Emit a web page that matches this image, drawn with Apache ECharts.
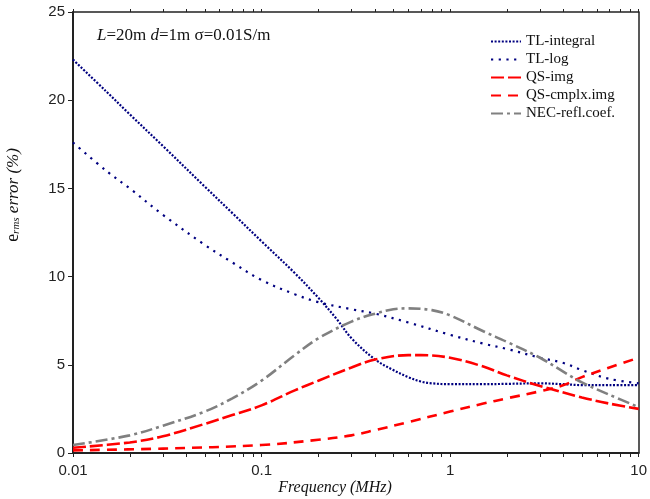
<!DOCTYPE html>
<html>
<head>
<meta charset="utf-8">
<title>erms error vs frequency</title>
<script src="https://cdn.jsdelivr.net/npm/echarts@6/dist/echarts.min.js"></script>
<style>
  html, body { margin: 0; padding: 0; background: #fff; }
  #main { width: 650px; height: 499px; }
</style>
</head>
<body>
<div id="main"></div>
<script>
// values (frequency in MHz, error in %)
var tlIntFreq = [0.01, 0.015, 0.02, 0.03, 0.05, 0.07, 0.1, 0.15, 0.2, 0.25, 0.3, 0.4, 0.5, 0.6, 0.7, 0.8, 1, 1.5, 2, 3, 4, 5, 7, 10];
var tlIntVal  = [22.3, 20.5, 19.2, 17.4, 15.1, 13.6, 12.0, 10.2, 8.8, 7.6, 6.5, 5.3, 4.7, 4.3, 4.05, 3.95, 3.9, 3.9, 3.92, 3.95, 3.9, 3.85, 3.85, 3.85];

var tlLogFreq = [0.01, 0.015, 0.02, 0.03, 0.05, 0.07, 0.1, 0.15, 0.2, 0.3, 0.4, 0.6, 1, 1.5, 2, 3, 4, 5, 7, 10];
var tlLogVal  = [17.6, 16.0, 15.0, 13.5, 11.8, 10.8, 9.8, 9.0, 8.55, 8.15, 7.9, 7.4, 6.7, 6.2, 5.9, 5.4, 5.1, 4.7, 4.2, 3.95];

var qsImgFreq = [0.01, 0.02, 0.03, 0.05, 0.07, 0.1, 0.15, 0.2, 0.3, 0.4, 0.6, 0.7, 1, 1.5, 2, 3, 5, 7, 10];
var qsImgVal  = [0.3, 0.6, 0.95, 1.65, 2.15, 2.7, 3.55, 4.1, 4.85, 5.3, 5.55, 5.55, 5.4, 4.9, 4.4, 3.8, 3.15, 2.8, 2.5];

var qsCplxFreq = [0.01, 0.03, 0.1, 0.2, 0.3, 0.4, 0.6, 1, 1.5, 2, 3, 4, 5, 7, 10];
var qsCplxVal  = [0.15, 0.25, 0.45, 0.75, 1.0, 1.3, 1.75, 2.35, 2.8, 3.1, 3.5, 3.85, 4.3, 4.85, 5.4];

var necFreq = [0.01, 0.02, 0.03, 0.05, 0.07, 0.1, 0.15, 0.2, 0.3, 0.4, 0.5, 0.6, 0.8, 1, 1.5, 2, 3, 4, 5, 7, 10];
var necVal  = [0.45, 1.0, 1.55, 2.35, 3.1, 4.1, 5.55, 6.5, 7.45, 7.9, 8.15, 8.2, 8.1, 7.8, 6.9, 6.3, 5.4, 4.6, 4.0, 3.3, 2.6];

var seriesNames = ['TL-integral', 'TL-log', 'QS-img', 'QS-cmplx.img', 'NEC-refl.coef.'];

// tick values
var xMajor = [0.01, 0.1, 1, 10];
var xMinor = [0.02, 0.03, 0.04, 0.05, 0.06, 0.07, 0.08, 0.09,
              0.2, 0.3, 0.4, 0.5, 0.6, 0.7, 0.8, 0.9,
              2, 3, 4, 5, 6, 7, 8, 9];
var xLabels = ['0.01', '0.1', '1', '10'];

function pairs(f, v) {
  return f.map(function (x, i) { return [x, v[i]]; });
}

var myChart = echarts.init(document.getElementById('main'));

var axisColor = '#222';
var serif = '"Liberation Serif", "Times New Roman", serif';
var sans = '"Liberation Sans", Arial, sans-serif';

var option = {
  backgroundColor: '#fff',
  animation: false,
  grid: { left: 73, right: 2, top: 12, bottom: 46, containLabel: false },
  legend: {
    orient: 'vertical', left: 485, top: 29,
    itemWidth: 30, itemHeight: 12, itemGap: 3,
    itemStyle: { opacity: 0 },
    data: seriesNames,
    textStyle: { fontFamily: serif, fontSize: 15, color: '#111' }
  },
  xAxis: [
    {
      type: 'log', logBase: 10, min: 0.01, max: 10, position: 'bottom',
      axisLine: { show: true, onZero: false, lineStyle: { color: axisColor, width: 2 } },
      axisTick: { show: true, inside: false, length: 4, customValues: xMajor.concat(xMinor), lineStyle: { color: axisColor, width: 1 } },
      axisLabel: {
        show: true, margin: 10, fontSize: 15, color: axisColor, fontFamily: sans,
        customValues: xMajor,
        formatter: function (v) {
          var i = xMajor.findIndex(function (m) { return Math.abs(Math.log10(m) - Math.log10(v)) < 1e-6; });
          return i >= 0 ? xLabels[i] : '';
        }
      },
      splitLine: { show: false }
    },
    {
      type: 'log', logBase: 10, min: 0.01, max: 10, position: 'top',
      axisLine: { show: true, onZero: false, lineStyle: { color: axisColor, width: 1.5 } },
      axisTick: { show: true, inside: false, length: 3, customValues: xMajor.concat(xMinor), lineStyle: { color: axisColor, width: 1 } },
      axisLabel: { show: false },
      splitLine: { show: false }
    }
  ],
  yAxis: [
    {
      type: 'value', min: 0, max: 25, interval: 5, position: 'left',
      axisLine: { show: true, lineStyle: { color: axisColor, width: 2 } },
      axisTick: { show: true, inside: false, length: 5, lineStyle: { color: axisColor } },
      axisLabel: { fontSize: 15, color: axisColor, fontFamily: sans, margin: 8 },
      splitLine: { show: false }
    },
    {
      type: 'value', min: 0, max: 25, interval: 5, position: 'right',
      axisLine: { show: true, lineStyle: { color: axisColor, width: 1.5 } },
      axisTick: { show: false },
      axisLabel: { show: false },
      splitLine: { show: false }
    }
  ],
  graphic: [
    {
      type: 'text', left: 97, top: 27,
      style: {
        text: '{i|L}=20m {i|d}=1m σ=0.01S/m',
        font: '17px ' + serif, fill: '#111',
        rich: { i: { fontStyle: 'italic', fontSize: 17, fontFamily: serif } }
      }
    },
    {
      type: 'text', x: 12, y: 195, rotation: Math.PI / 2,
      style: {
        text: '{e|e}{s|rms}{i| error (%)}',
        align: 'center', verticalAlign: 'middle', fill: '#111',
        rich: {
          e: { fontSize: 18, fontFamily: serif, verticalAlign: 'bottom', lineHeight: 20 },
          s: { fontSize: 11, fontFamily: serif, fontStyle: 'italic', verticalAlign: 'bottom', lineHeight: 14 },
          i: { fontSize: 17, fontFamily: serif, fontStyle: 'italic', verticalAlign: 'bottom', lineHeight: 20 }
        }
      }
    },
    {
      type: 'text', x: 335, y: 488,
      style: {
        text: 'Frequency (MHz)', align: 'center', verticalAlign: 'middle',
        font: 'italic 16px ' + serif, fill: '#111'
      }
    }
  ],
  series: [
    {
      name: 'TL-integral', type: 'line', smooth: 0.35, symbol: 'none',
      data: pairs(tlIntFreq, tlIntVal),
      itemStyle: { color: '#000080' },
      lineStyle: { color: '#000080', width: 2.2, type: [2, 1.6] }
    },
    {
      name: 'TL-log', type: 'line', smooth: 0.35, symbol: 'none',
      data: pairs(tlLogFreq, tlLogVal),
      itemStyle: { color: '#000080' },
      lineStyle: { color: '#000080', width: 2.2, type: [2.2, 5.5] }
    },
    {
      name: 'QS-img', type: 'line', smooth: 0.35, symbol: 'none',
      data: pairs(qsImgFreq, qsImgVal),
      itemStyle: { color: '#ff0000' },
      lineStyle: { color: '#ff0000', width: 2.6, type: [13, 4] }
    },
    {
      name: 'QS-cmplx.img', type: 'line', smooth: 0.35, symbol: 'none',
      data: pairs(qsCplxFreq, qsCplxVal),
      itemStyle: { color: '#ff0000' },
      lineStyle: { color: '#ff0000', width: 2.6, type: [10, 7] }
    },
    {
      name: 'NEC-refl.coef.', type: 'line', smooth: 0.35, symbol: 'none',
      data: pairs(necFreq, necVal),
      itemStyle: { color: '#808080' },
      lineStyle: { color: '#808080', width: 2.6, type: [12, 4, 3, 4] }
    }
  ]
};

myChart.setOption(option);
</script>
</body>
</html>
